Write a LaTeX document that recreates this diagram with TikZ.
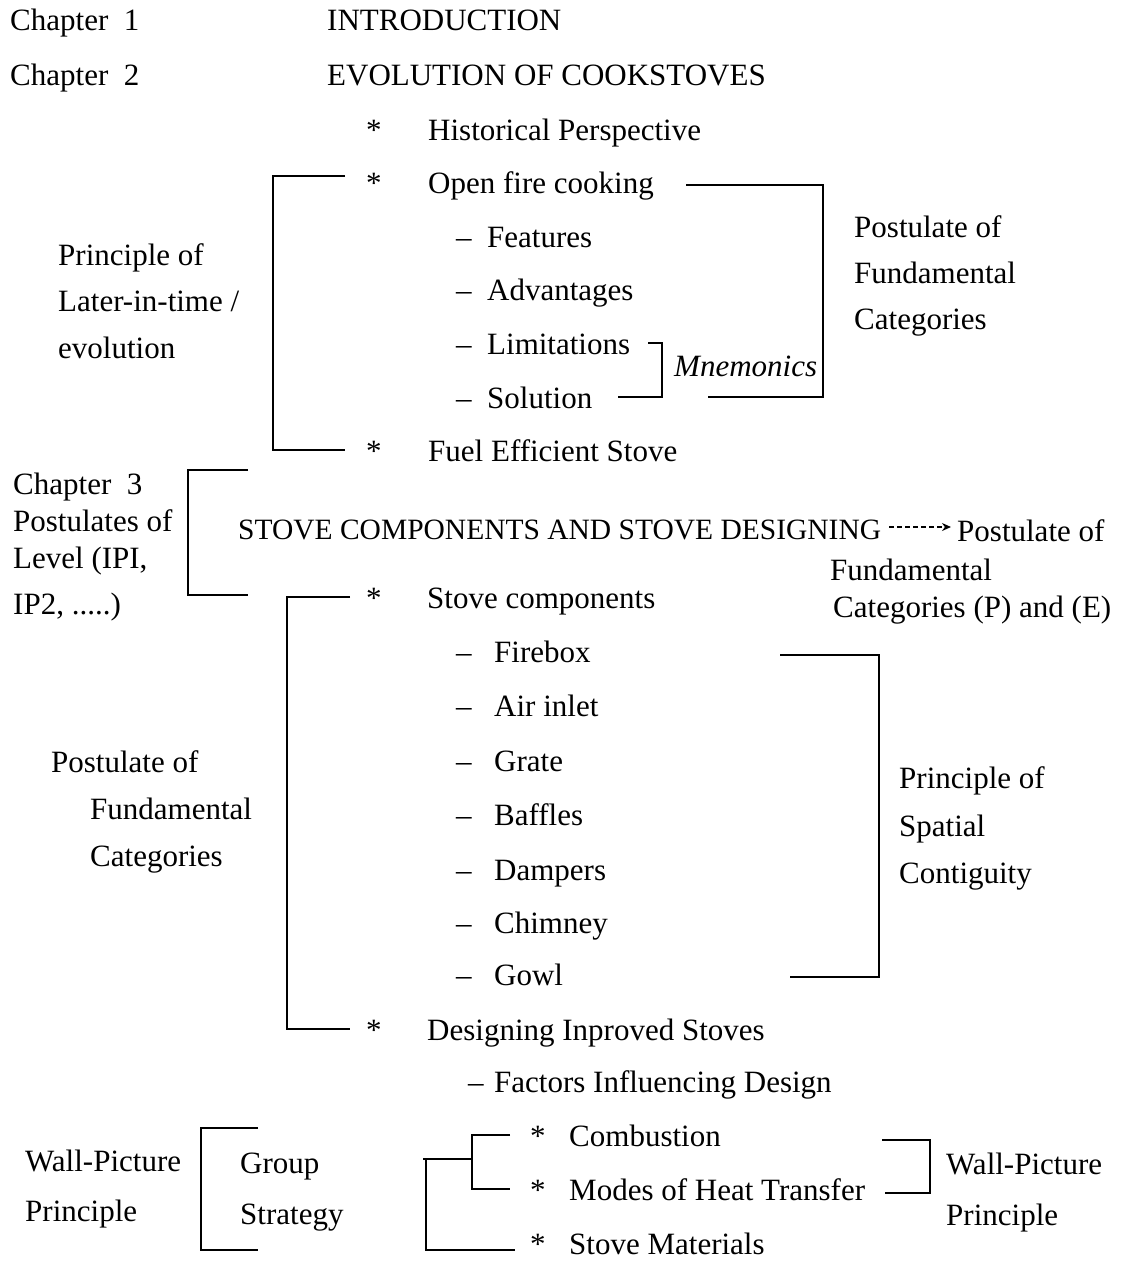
\documentclass[tikz,border=0pt]{standalone}
\usepackage{fontspec}
\setmainfont{Liberation Serif}
\usetikzlibrary{arrows.meta}
\begin{document}
\begin{tikzpicture}[x=1pt,y=-1pt,
  t/.style={anchor=base west,inner sep=0pt,font=\fontsize{31}{37}\selectfont},
  tn/.style={t,font=\fontsize{29.5}{35}\selectfont},
  ti/.style={t,font=\fontsize{31}{37}\selectfont\itshape},
  br/.style={line width=1.6pt},
  arr/.style={line width=1.4pt,dash pattern=on 5pt off 3pt,-{Stealth[length=9pt,width=8pt]}}
]
\useasboundingbox (0,0) rectangle (1123,1262);
\fill[white] (0,0) rectangle (1123,1262);

% Chapters 1 and 2
\node[t] (ch1) at (10,30) {Chapter\ \ 1};
\node[t] (intro) at (327,30) {INTRODUCTION};
\node[t] (ch2) at (10,85) {Chapter\ \ 2};
\node[t] (evo) at (327,85) {EVOLUTION OF COOKSTOVES};
\node[t] (s1) at (366,140) {*};
\node[t] (hist) at (428,140) {Historical Perspective};
\node[t] (s2) at (366,193) {*};
\node[t] (open) at (428,193) {Open fire cooking};
\node[t] (d1) at (456,247) {–};
\node[t] (feat) at (487,247) {Features};
\node[t] (d2) at (456,300) {–};
\node[t] (adv) at (487,300) {Advantages};
\node[t] (d3) at (456,354) {–};
\node[t] (lim) at (487,354) {Limitations};
\node[t] (d4) at (456,408) {–};
\node[t] (sol) at (487,408) {Solution};
\node[t] (s3) at (366,461) {*};
\node[t] (fuel) at (428,461) {Fuel Efficient Stove};

\node[t] (pl1) at (58,265) {Principle of};
\node[t] (pl2) at (58,311) {Later-in-time /};
\node[t] (pl3) at (58,358) {evolution};
\node[t] (pf1) at (854,237) {Postulate of};
\node[t] (pf2) at (854,283) {Fundamental};
\node[t] (pf3) at (854,329) {Categories};
\node[ti] (mn) at (674,376) {Mnemonics};

% brackets of chapter 2
\coordinate (b1a) at (345,176); \coordinate (b1b) at (273,176);
\coordinate (b1c) at (273,450); \coordinate (b1d) at (345,450);
\draw[br] (b1a) -- (b1b) -- (b1c) -- (b1d);
\coordinate (b2a) at (648,343); \coordinate (b2b) at (662,343);
\coordinate (b2c) at (662,397); \coordinate (b2d) at (618,397);
\draw[br] (b2a) -- (b2b) -- (b2c) -- (b2d);
\coordinate (b3a) at (686,185); \coordinate (b3b) at (823,185);
\coordinate (b3c) at (823,397); \coordinate (b3d) at (708,397);
\draw[br] (b3a) -- (b3b) -- (b3c) -- (b3d);

% Chapter 3
\node[t] (ch3a) at (13,494) {Chapter\ \ 3};
\node[t] (ch3b) at (13,531) {Postulates of};
\node[t] (ch3c) at (13,568) {Level (IPI,};
\node[t] (ch3d) at (13,614) {IP2, .....)};
\coordinate (b4a) at (248,470); \coordinate (b4b) at (188,470);
\coordinate (b4c) at (188,595); \coordinate (b4d) at (248,595);
\draw[br] (b4a) -- (b4b) -- (b4c) -- (b4d);
\node[tn] (stove) at (238,539) {STOVE COMPONENTS AND STOVE DESIGNING};
\node[t] (pr1) at (957,541) {Postulate of};
\node[t] (pr2) at (830,580) {Fundamental};
\node[t] (pr3) at (833,617) {Categories (P) and (E)};
\coordinate (arA) at (889,527);
\draw[arr,shorten >=6pt] (arA) -- (pr1.west |- arA);

\node[t] (s4) at (366,608) {*};
\node[t] (comp) at (427,608) {Stove components};
\node[t] (e1) at (456,662) {–};
\node[t] (fire) at (494,662) {Firebox};
\node[t] (e2) at (456,716) {–};
\node[t] (air) at (494,716) {Air inlet};
\node[t] (e3) at (456,771) {–};
\node[t] (grate) at (494,771) {Grate};
\node[t] (e4) at (456,825) {–};
\node[t] (baf) at (494,825) {Baffles};
\node[t] (e5) at (456,880) {–};
\node[t] (damp) at (494,880) {Dampers};
\node[t] (e6) at (456,933) {–};
\node[t] (chim) at (494,933) {Chimney};
\node[t] (e7) at (456,985) {–};
\node[t] (gowl) at (494,985) {Gowl};
\node[t] (s5) at (366,1040) {*};
\node[t] (des) at (427,1040) {Designing Inproved Stoves};
\node[t] (e8) at (468,1092) {–};
\node[t] (fact) at (494,1092) {Factors Influencing Design};

\node[t] (pm1) at (51,772) {Postulate of};
\node[t] (pm2) at (90,819) {Fundamental};
\node[t] (pm3) at (90,866) {Categories};
\node[t] (ps1) at (899,788) {Principle of};
\node[t] (ps2) at (899,836) {Spatial};
\node[t] (ps3) at (899,883) {Contiguity};

\coordinate (b5a) at (350,597); \coordinate (b5b) at (287,597);
\coordinate (b5c) at (287,1029); \coordinate (b5d) at (350,1029);
\draw[br] (b5a) -- (b5b) -- (b5c) -- (b5d);
\coordinate (b6a) at (780,655); \coordinate (b6b) at (879,655);
\coordinate (b6c) at (879,977); \coordinate (b6d) at (790,977);
\draw[br] (b6a) -- (b6b) -- (b6c) -- (b6d);

% bottom part
\node[t] (s6) at (530,1146) {*};
\node[t] (comb) at (569,1146) {Combustion};
\node[t] (s7) at (530,1200) {*};
\node[t] (modes) at (569,1200) {Modes of Heat Transfer};
\node[t] (s8) at (530,1254) {*};
\node[t] (mat) at (569,1254) {Stove Materials};
\node[t] (wl1) at (25,1171) {Wall-Picture};
\node[t] (wl2) at (25,1221) {Principle};
\node[t] (gs1) at (240,1173) {Group};
\node[t] (gs2) at (240,1224) {Strategy};
\node[t] (wr1) at (946,1174) {Wall-Picture};
\node[t] (wr2) at (946,1225) {Principle};

\coordinate (b7a) at (258,1128); \coordinate (b7b) at (201,1128);
\coordinate (b7c) at (201,1250); \coordinate (b7d) at (258,1250);
\draw[br] (b7a) -- (b7b) -- (b7c) -- (b7d);
\coordinate (b8a) at (510,1135); \coordinate (b8b) at (472,1135);
\coordinate (b8c) at (472,1189); \coordinate (b8d) at (510,1189);
\draw[br] (b8a) -- (b8b) -- (b8c) -- (b8d);
\coordinate (b9a) at (423,1159); \coordinate (b9b) at (472,1159);
\draw[br] (b9a) -- (b9b);
\coordinate (b10a) at (426,1159); \coordinate (b10b) at (426,1250);
\coordinate (b10c) at (515,1250);
\draw[br] (b10a) -- (b10b) -- (b10c);
\coordinate (b11a) at (882,1140); \coordinate (b11b) at (930,1140);
\coordinate (b11c) at (930,1193); \coordinate (b11d) at (885,1193);
\draw[br] (b11a) -- (b11b) -- (b11c) -- (b11d);
\end{tikzpicture}
\end{document}
